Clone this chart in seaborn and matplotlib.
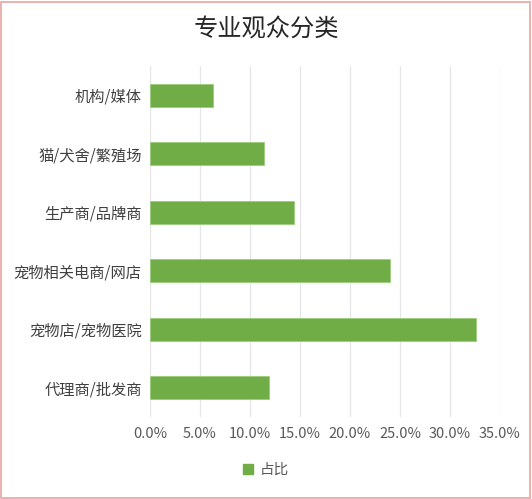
import matplotlib
matplotlib.use("Agg")
import matplotlib.pyplot as plt
import seaborn as sns
import pandas as pd
from matplotlib.patches import Rectangle
from matplotlib.ticker import FuncFormatter

categories = ["机构/媒体", "猫/犬舍/繁殖场", "生产商/品牌商", "宠物相关电商/网店", "宠物店/宠物医院", "代理商/批发商"]
values = [6.25, 11.4, 14.4, 24.0, 32.6, 11.9]
series_name = "占比"
title = "专业观众分类"

sns.set_theme(style="white")
plt.rcParams['font.family'] = ['Noto Sans CJK SC', 'DejaVu Sans']

df = pd.DataFrame({"cat": categories, "val": values, "s": series_name})

fig = plt.figure(figsize=(5.32, 4.99), dpi=100)
ax = fig.add_axes([150/532, 1-417/499, 350/532, 351/499])

green = "#70AD47"
sns.barplot(data=df, x="val", y="cat", hue="s", palette=[green], width=0.4,
            orient="h", ax=ax, legend=False, saturation=1,
            edgecolor="#9DCC7E", linewidth=0.6)

ax.set_xlim(0, 35)
ax.set_xticks([0, 5, 10, 15, 20, 25, 30, 35])
ax.xaxis.set_major_formatter(FuncFormatter(lambda v, p: f"{v:.1f}%"))
ax.grid(axis="x", color="#E6E6E6", linewidth=0.9)
ax.set_axisbelow(True)
for s in ax.spines.values():
    s.set_visible(False)
ax.set_xlabel("")
ax.set_ylabel("")
ax.tick_params(axis="x", length=0, labelsize=10.5, colors="#595959", pad=7)
ax.tick_params(axis="y", length=0, labelsize=11, colors="#404040", pad=6)

fig.text(0.5, 1-30/499, title, ha="center", va="center", fontsize=17.5, color="#262626")

# legend
handle = Rectangle((0, 0), 1, 1, color=green)
fig.legend([handle], [series_name], loc="center", bbox_to_anchor=(0.5, 1-470/499),
           frameon=False, fontsize=10.5, handlelength=0.7, handleheight=0.7,
           labelcolor="#595959", handletextpad=0.5)

# border
fig.patches.append(Rectangle((1/532, 1/499), 529/532, 496/499, transform=fig.transFigure,
                             fill=False, edgecolor="#E8A3A3", linewidth=1.2))

fig.savefig("out.png", dpi=100)
